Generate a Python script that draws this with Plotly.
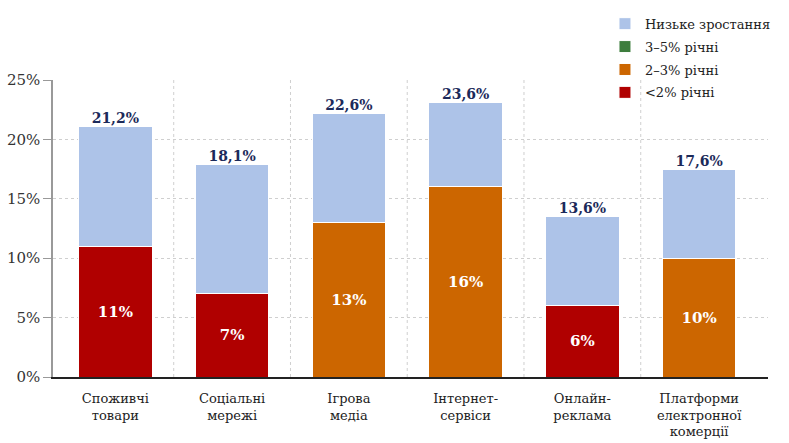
import plotly.graph_objects as go

categories = ["Споживчі<br>товари", "Соціальні<br>мережі", "Ігрова<br>медіа",
              "Інтернет-<br>сервіси", "Онлайн-<br>реклама", "Платформи<br>електронної<br>комерції"]
below_2 = [11, 7, None, None, 6, None]          # <2% річні
from_2_to_3 = [None, None, 13, 16, None, 10]    # 2–3% річні
from_3_to_5 = [None, None, None, None, None, None]  # 3–5% річні
low_growth = [10.1, 10.9, 9.2, 7.1, 7.5, 7.5]   # Низьке зростання
total_labels = [21.2, 18.1, 22.6, 23.6, 13.6, 17.6]
y_ticks = [0, 5, 10, 15, 20, 25]

RED = "#b00000"
ORANGE = "#cc6600"
GREEN = "#3d7d3d"
BLUE = "#adc3e8"
NAVY = "#1c2a5a"
FONT = "DejaVu Serif"

x = list(range(len(categories)))
fig = go.Figure()

def inside_text(vals):
    return [f"{v:g}%" if v is not None else "" for v in vals]

common = dict(width=0.63, marker_line_width=1, marker_line_color="white")

fig.add_trace(go.Bar(x=x, y=below_2, name="<2% річні", marker_color=RED,
                     text=inside_text(below_2), textposition="inside",
                     insidetextanchor="middle",
                     textfont=dict(color="white", size=15, family=FONT, weight="bold"),
                     legendgroup="a", legendrank=4, **common))
fig.add_trace(go.Bar(x=x, y=from_2_to_3, name="2–3% річні", marker_color=ORANGE,
                     text=inside_text(from_2_to_3), textposition="inside",
                     insidetextanchor="middle",
                     textfont=dict(color="white", size=15, family=FONT, weight="bold"),
                     legendgroup="b", legendrank=3, **common))
fig.add_trace(go.Bar(x=x, y=from_3_to_5, name="3–5% річні", marker_color=GREEN,
                     legendgroup="c", legendrank=2, **common))
fig.add_trace(go.Bar(x=x, y=low_growth, name="Низьке зростання", marker_color=BLUE,
                     legendgroup="d", legendrank=1, **common))

tops = []
for i in x:
    base = (below_2[i] or 0) + (from_2_to_3[i] or 0) + (from_3_to_5[i] or 0)
    tops.append(base + low_growth[i])

fig.add_trace(go.Scatter(x=x, y=tops, mode="text",
                         text=[f"{v:.1f}%".replace(".", ",") for v in total_labels],
                         textposition="top center",
                         textfont=dict(color=NAVY, size=14, family=FONT, weight="bold"),
                         showlegend=False, hoverinfo="skip"))

# vertical dotted separators between categories
for i in range(len(categories) - 1):
    fig.add_shape(type="line", xref="x", yref="y", x0=i + 0.5, x1=i + 0.5, y0=0, y1=25,
                  line=dict(color="#cfcfcf", width=1, dash="dot"), layer="below")

fig.update_layout(
    width=789, height=443,
    barmode="stack",
    plot_bgcolor="white", paper_bgcolor="white",
    margin=dict(l=53, r=21, t=80, b=66, autoexpand=False),
    font=dict(family=FONT, color="#222222"),
    legend=dict(x=0.772, y=1.24, xanchor="left", yanchor="top",
                traceorder="grouped", tracegroupgap=3,
                font=dict(size=13, family=FONT, color="#222222"),
                bgcolor="rgba(0,0,0,0)"),
    xaxis=dict(tickmode="array", tickvals=x, ticktext=categories,
               range=[-0.534, 5.59], showgrid=False, automargin=False,
               showline=True, linecolor="#222222", linewidth=2,
               ticks="", ticklabelstandoff=8,
               tickfont=dict(size=13, family=FONT, color="#222222")),
    yaxis=dict(range=[0, 25], tickvals=y_ticks, ticktext=[f"{v}%" for v in y_ticks],
               showgrid=True, gridcolor="#cfcfcf", griddash="dot", gridwidth=1,
               showline=True, linecolor="#999999", linewidth=1.5, automargin=False,
               ticks="outside", ticklen=8, tickcolor="#999999",
               zeroline=False,
               tickfont=dict(size=15, family=FONT, color="#333333")),
)

fig.write_html("out.html")
